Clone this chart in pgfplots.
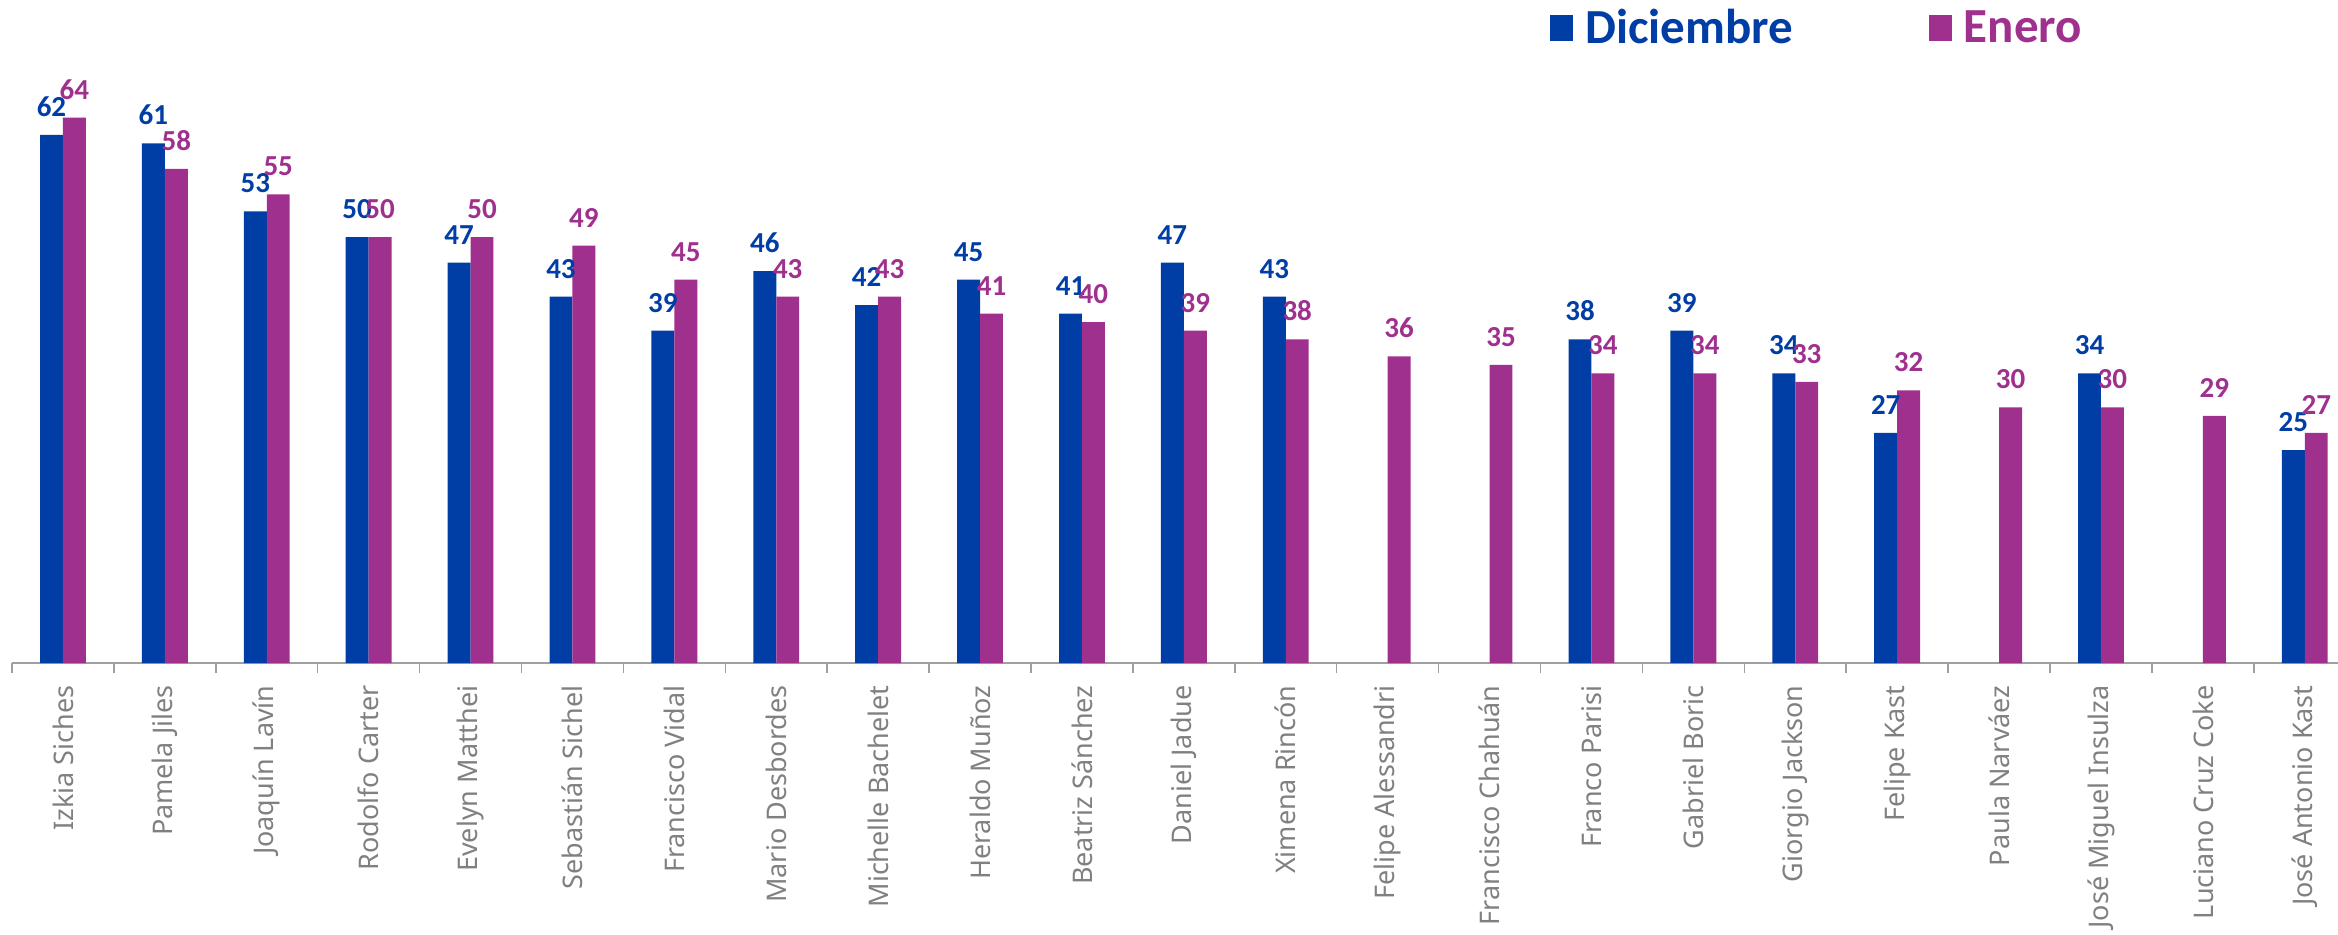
\documentclass[border=0pt]{standalone}
\usepackage{pgfplots}
\pgfplotsset{compat=1.18}
\usepackage{fontspec}
\setmainfont{Noto Sans}
\newfontfamily\carlito{Carlito}
\definecolor{dic}{RGB}{0,61,165}
\definecolor{ene}{RGB}{160,48,142}
\definecolor{tickgray}{RGB}{128,128,128}
\definecolor{axgray}{RGB}{160,160,160}
\begin{document}
\begin{tikzpicture}
\begin{axis}[
  x=50.95pt, y=4.26pt,
  xmin=-0.5, xmax=22.33, ymin=0, ymax=77.82,
  axis x line*=bottom, axis y line=none,
  clip=false,
  ybar, bar width=0.225,
  xtick={0,...,22},
  xticklabels={Izkia Siches, Pamela Jiles, Joaquín Lavín, Rodolfo Carter, Evelyn Matthei, Sebastián Sichel, Francisco Vidal, Mario Desbordes, Michelle Bachelet, Heraldo Muñoz, Beatriz Sánchez, Daniel Jadue, Ximena Rincón, Felipe Alessandri, Francisco Chahuán, Franco Parisi, Gabriel Boric, Giorgio Jackson, Felipe Kast, Paula Narváez, José Miguel Insulza, Luciano Cruz Coke, José Antonio Kast},
  major tick length=0pt,
  minor xtick={-0.5,0.5,...,21.5},
  minor tick length=5pt,
  tick align=outside,
  tick style={axgray, line width=0.75pt},
  x axis line style={axgray, line width=0.75pt},
  xticklabel style={rotate=90, anchor=east, font=\fontsize{13.5}{13.5}\selectfont, text=tickgray, inner sep=0pt},
  xticklabel shift=11pt,
  /pgf/number format/assume math mode=true,
  nodes near coords,
  nodes near coords style={font=\carlito\bfseries\fontsize{14.5}{14.5}\selectfont, inner sep=0pt, anchor=south, yshift=9pt},
  legend columns=2,
  legend style={at={(0.661,0.958)}, anchor=west, draw=none, fill=none, inner sep=0pt,
    font=\carlito\bfseries\fontsize{24.5}{24.5}\selectfont,
    nodes={inner sep=0pt},
    /tikz/every odd column/.append style={column sep=6pt},
    /tikz/every even column/.append style={column sep=68pt}},
]
\addplot[fill=dic, draw=none, bar shift=-0.1125,
  every node near coord/.append style={text=dic},
  legend image code/.code={\fill[dic] (0pt,-6.5pt) rectangle (11.5pt,6.5pt);}]
  coordinates {(0,62) (1,61) (2,53) (3,50) (4,47) (5,43) (6,39) (7,46) (8,42) (9,45) (10,41) (11,47) (12,43) (15,38) (16,39) (17,34) (18,27) (20,34) (22,25)};
\addlegendentry{\textcolor{dic}{Diciembre}}
\addplot[fill=ene, draw=none, bar shift=0.1125,
  every node near coord/.append style={text=ene},
  legend image code/.code={\fill[ene] (0pt,-6.5pt) rectangle (11.5pt,6.5pt);}]
  coordinates {(0,64) (1,58) (2,55) (3,50) (4,50) (5,49) (6,45) (7,43) (8,43) (9,41) (10,40) (11,39) (12,38) (13,36) (14,35) (15,34) (16,34) (17,33) (18,32) (19,30) (20,30) (21,29) (22,27)};
\addlegendentry{\textcolor{ene}{Enero}}
\end{axis}
\pgfresetboundingbox
\path[use as bounding box] (-6pt,-135.5pt) rectangle (1163pt,331.5pt);
\end{tikzpicture}
\end{document}
